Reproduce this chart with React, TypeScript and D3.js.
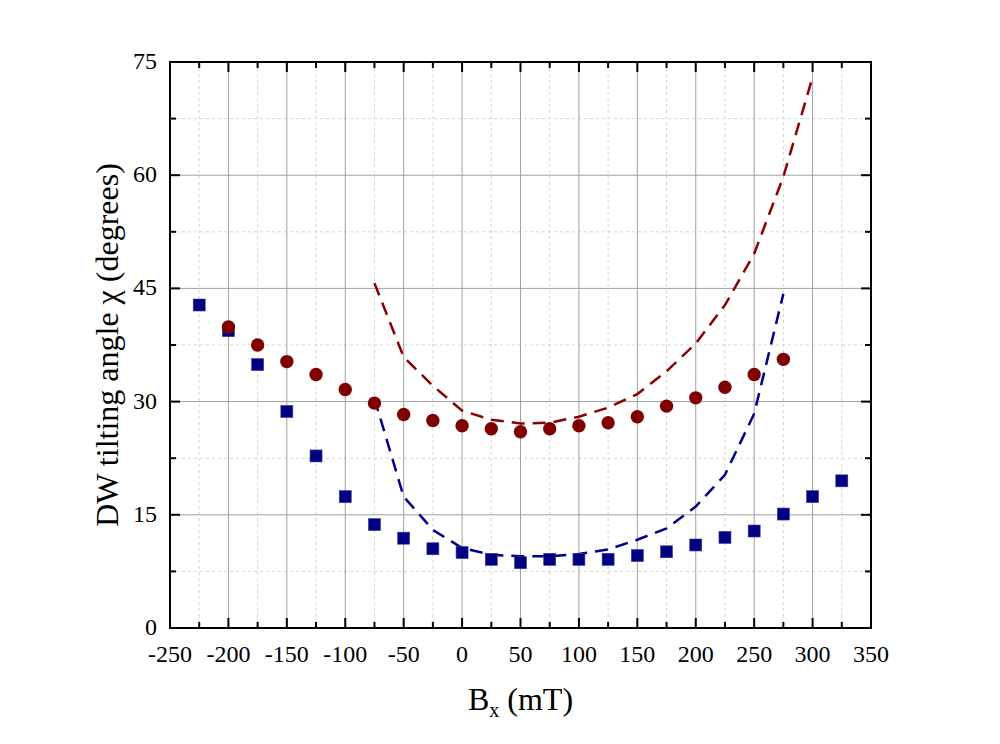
// @ts-nocheck
import { FC, useEffect, useRef } from "react";
import * as d3 from "d3";

// measured data (B field in mT, tilting angle in degrees)
const bxBlue = [-225, -200, -175, -150, -125, -100, -75, -50, -25, 0, 25, 50, 75, 100, 125, 150, 175, 200, 225, 250, 275, 300, 325];
const chiBlue = [42.8, 39.4, 34.9, 28.7, 22.8, 17.4, 13.7, 11.9, 10.5, 10.0, 9.1, 8.65, 9.1, 9.1, 9.1, 9.6, 10.1, 11.0, 12.0, 12.85, 15.1, 17.4, 19.5];

const bxRed = [-200, -175, -150, -125, -100, -75, -50, -25, 0, 25, 50, 75, 100, 125, 150, 175, 200, 225, 250, 275];
const chiRed = [39.9, 37.5, 35.3, 33.6, 31.6, 29.8, 28.3, 27.5, 26.8, 26.4, 26.0, 26.4, 26.8, 27.2, 28.0, 29.4, 30.5, 31.9, 33.6, 35.6];

// model curves (dashed)
const bxFitRed = [-75, -50, -25, 0, 25, 50, 75, 100, 125, 150, 175, 200, 225, 250, 275, 300];
const chiFitRed = [45.7, 35.9, 32.1, 28.8, 27.6, 27.1, 27.2, 28.0, 29.2, 31.0, 34.0, 37.7, 42.8, 49.6, 59.8, 73.0];

const bxFitBlue = [-75, -50, -25, 0, 25, 50, 75, 100, 125, 150, 175, 200, 225, 250, 275];
const chiFitBlue = [30.4, 17.4, 13.0, 10.6, 9.7, 9.5, 9.5, 9.8, 10.4, 11.7, 13.2, 16.1, 20.3, 28.4, 44.3];

const xTicks = [-250, -200, -150, -100, -50, 0, 50, 100, 150, 200, 250, 300, 350];
const yTicks = [0, 15, 30, 45, 60, 75];

const RED = "#8b0000";
const BLUE = "#00008b";
const FONT = "'Liberation Serif', 'Times New Roman', serif";

const App: FC = () => {
  const ref = useRef();
  const W = 1000;
  const H = 744;

  useEffect(() => {
    const svg = d3.select(ref.current);
    svg.selectAll("*").remove();

    const margin = { top: 62, right: 129, bottom: 116, left: 170 };
    const width = W - margin.left - margin.right;
    const height = H - margin.top - margin.bottom;

    const g = svg
      .append("g")
      .attr("transform", `translate(${margin.left},${margin.top})`);

    const x = d3.scaleLinear().domain([-250, 350]).range([0, width]);
    const y = d3.scaleLinear().domain([0, 75]).range([height, 0]);

    const minorX = d3.range(-225, 350, 50);
    const minorY = d3.range(7.5, 75, 15);

    // minor grid
    g.append("g")
      .selectAll("line")
      .data(minorX)
      .join("line")
      .attr("x1", (d) => x(d))
      .attr("x2", (d) => x(d))
      .attr("y1", 0)
      .attr("y2", height)
      .attr("stroke", "#d4d4d4")
      .attr("stroke-dasharray", "3,3");
    g.append("g")
      .selectAll("line")
      .data(minorY)
      .join("line")
      .attr("x1", 0)
      .attr("x2", width)
      .attr("y1", (d) => y(d))
      .attr("y2", (d) => y(d))
      .attr("stroke", "#d4d4d4")
      .attr("stroke-dasharray", "3,3");

    // major grid
    g.append("g")
      .selectAll("line")
      .data(xTicks.slice(1, -1))
      .join("line")
      .attr("x1", (d) => x(d))
      .attr("x2", (d) => x(d))
      .attr("y1", 0)
      .attr("y2", height)
      .attr("stroke", "#a0a0a0");
    g.append("g")
      .selectAll("line")
      .data(yTicks.slice(1, -1))
      .join("line")
      .attr("x1", 0)
      .attr("x2", width)
      .attr("y1", (d) => y(d))
      .attr("y2", (d) => y(d))
      .attr("stroke", "#a0a0a0");

    // fit curves
    const line = d3
      .line()
      .x((d) => x(d[0]))
      .y((d) => y(d[1]));

    g.append("path")
      .datum(d3.zip(bxFitRed, chiFitRed))
      .attr("fill", "none")
      .attr("stroke", RED)
      .attr("stroke-width", 2.5)
      .attr("stroke-dasharray", "13,8")
      .attr("d", line);

    g.append("path")
      .datum(d3.zip(bxFitBlue, chiFitBlue))
      .attr("fill", "none")
      .attr("stroke", BLUE)
      .attr("stroke-width", 2.5)
      .attr("stroke-dasharray", "13,8")
      .attr("d", line);

    // blue squares
    const s = 12;
    g.append("g")
      .selectAll("rect")
      .data(d3.zip(bxBlue, chiBlue))
      .join("rect")
      .attr("x", (d) => x(d[0]) - s / 2)
      .attr("y", (d) => y(d[1]) - s / 2)
      .attr("width", s)
      .attr("height", s)
      .attr("fill", "#000080")
      .attr("stroke", "#3a3aa0")
      .attr("stroke-width", 0.6);

    // red circles
    g.append("g")
      .selectAll("circle")
      .data(d3.zip(bxRed, chiRed))
      .join("circle")
      .attr("cx", (d) => x(d[0]))
      .attr("cy", (d) => y(d[1]))
      .attr("r", 6.7)
      .attr("fill", "#800000");

    // axes frame with inward ticks
    const allX = d3.range(-250, 351, 25);
    const allY = d3.range(0, 75.1, 7.5);
    const tickLen = (major) => (major ? 10 : 6);

    const ticks = g.append("g").attr("stroke", "#000").attr("stroke-width", 2);
    allX.forEach((v) => {
      const major = v % 50 === 0;
      ticks.append("line").attr("x1", x(v)).attr("x2", x(v)).attr("y1", height).attr("y2", height - tickLen(major));
      ticks.append("line").attr("x1", x(v)).attr("x2", x(v)).attr("y1", 0).attr("y2", tickLen(major));
    });
    allY.forEach((v) => {
      const major = v % 15 === 0;
      ticks.append("line").attr("x1", 0).attr("x2", tickLen(major)).attr("y1", y(v)).attr("y2", y(v));
      ticks.append("line").attr("x1", width).attr("x2", width - tickLen(major)).attr("y1", y(v)).attr("y2", y(v));
    });

    g.append("rect")
      .attr("x", 0)
      .attr("y", 0)
      .attr("width", width)
      .attr("height", height)
      .attr("fill", "none")
      .attr("stroke", "#000")
      .attr("stroke-width", 2);

    // tick labels
    g.append("g")
      .selectAll("text")
      .data(xTicks)
      .join("text")
      .attr("x", (d) => x(d))
      .attr("y", height + 34)
      .attr("text-anchor", "middle")
      .style("font-family", FONT)
      .style("font-size", "24px")
      .text((d) => d);

    g.append("g")
      .selectAll("text")
      .data(yTicks)
      .join("text")
      .attr("x", -13)
      .attr("y", (d) => y(d) + 7)
      .attr("text-anchor", "end")
      .style("font-family", FONT)
      .style("font-size", "24px")
      .text((d) => d);

    // x axis title
    const xt = svg
      .append("text")
      .attr("x", margin.left + width / 2)
      .attr("y", 710)
      .attr("text-anchor", "middle")
      .style("font-family", FONT)
      .style("font-size", "32px");
    xt.append("tspan").text("B");
    xt.append("tspan").attr("dy", 7).style("font-size", "20px").text("x");
    xt.append("tspan").attr("dy", -7).text(" (mT)");

    // y axis title
    svg
      .append("text")
      .attr("transform", `translate(118, ${margin.top + height / 2}) rotate(-90)`)
      .attr("text-anchor", "middle")
      .style("font-family", FONT)
      .style("font-size", "32px")
      .text("DW tilting angle \u03c7 (degrees)");
  }, []);

  return (
    <svg
      ref={ref}
      width={W}
      height={H}
      style={{ position: "absolute", left: 0, top: 0, background: "#fff" }}
    />
  );
};

export default App;
